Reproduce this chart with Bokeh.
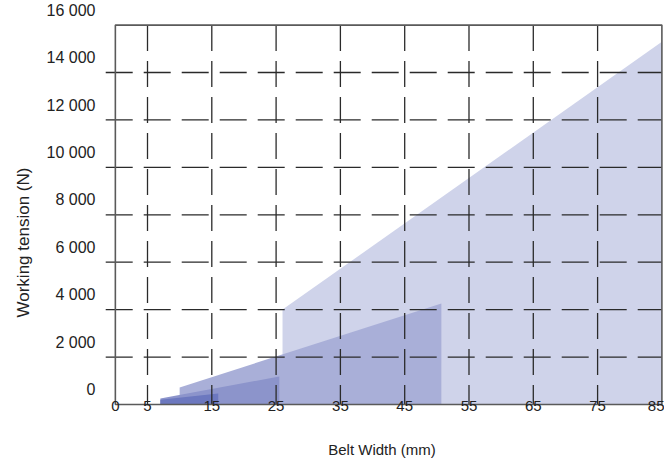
from bokeh.plotting import figure
from bokeh.models import Range1d, LinearAxis, FixedTicker, Title
from bokeh.embed import file_html
from bokeh.resources import INLINE

# ---- data ----
x_ticks = [0, 5, 15, 25, 35, 45, 55, 65, 75, 85]
x_tick_labels = ["0", "5", "15", "25", "35", "45", "55", "65", "75", "85"]
y_ticks = [0, 2000, 4000, 6000, 8000, 10000, 12000, 14000, 16000]
y_tick_labels = ["0", "2 000", "4 000", "6 000", "8 000", "10 000", "12 000", "14 000", "16 000"]

# shaded working ranges (belt width, tension)
area1_x = [26, 26, 85, 85]
area1_y = [0, 4000, 15300, 0]
area2_x = [10, 10, 50.7, 50.7]
area2_y = [0, 720, 4260, 0]
area3_x = [7, 7, 25.5, 25.5]
area3_y = [0, 250, 1180, 0]
area4_x = [7, 7, 16, 16]
area4_y = [0, 200, 460, 0]

FONT = "Liberation Sans"
TXT = "#222222"
Y0, Y1 = -86, 16700
LABEL_SHIFT = 630

p = figure(frame_width=563, frame_height=398,
           x_range=Range1d(-2.31, 85.25), y_range=Range1d(Y0, Y1),
           output_backend="svg", toolbar_location=None,
           y_axis_location=None,
           min_border_left=100, min_border_right=1, min_border_top=8, min_border_bottom=56)
p.outline_line_color = None
p.grid.visible = False
p.background_fill_color = "white"

p.patch(area1_x, area1_y, fill_color="#cfd3ea", line_color=None)
p.patch(area2_x, area2_y, fill_color="#a9afd8", line_color=None)
p.patch(area3_x, area3_y, fill_color="#8c94cb", line_color=None)
p.patch(area4_x, area4_y, fill_color="#6c78bf", line_color=None)

# dashed grid
gx = x_ticks[1:-1]
p.segment(x0=gx, y0=[y_ticks[-1]] * len(gx), x1=gx, y1=[y_ticks[0]] * len(gx),
          line_color="#2a2a2a", line_width=1.3, line_dash="26 10")
gy = y_ticks[1:-1]
p.segment(x0=[-1.5] * len(gy), y0=gy, x1=[x_ticks[-1]] * len(gy), y1=gy,
          line_color="#2a2a2a", line_width=1.3, line_dash="27 11")

# frame box
p.quad(left=[x_ticks[0]], right=[x_ticks[-1]], bottom=[y_ticks[0]], top=[y_ticks[-1]],
       fill_color=None, line_color="#5a5a5a", line_width=1.6)

# x axis
xa = p.xaxis[0]
xa.ticker = FixedTicker(ticks=x_ticks)
xa.major_label_overrides = {t: l for t, l in zip(x_ticks, x_tick_labels)}
xa.bounds = (x_ticks[0], x_ticks[-1])
xa.axis_line_color = None
xa.major_tick_line_color = None
xa.minor_tick_line_color = None
xa.major_tick_out = 0
xa.major_label_standoff = -6
xa.major_label_text_font = FONT
xa.major_label_text_font_size = "15px"
xa.major_label_text_color = TXT
xa.axis_label = "Belt Width (mm)"
xa.axis_label_text_font = FONT
xa.axis_label_text_font_size = "15px"
xa.axis_label_text_font_style = "normal"
xa.axis_label_text_color = TXT
xa.axis_label_standoff = 27

# y tick labels (printed slightly above their lines)
p.extra_y_ranges = {"lab": Range1d(Y0 - LABEL_SHIFT, Y1 - LABEL_SHIFT)}
ya = LinearAxis(y_range_name="lab", ticker=FixedTicker(ticks=y_ticks))
ya.major_label_overrides = {t: l for t, l in zip(y_ticks, y_tick_labels)}
ya.axis_line_color = None
ya.major_tick_line_color = None
ya.minor_tick_line_color = None
ya.major_tick_out = 0
ya.major_tick_in = 0
ya.major_label_standoff = 5
ya.major_label_text_font = FONT
ya.major_label_text_font_size = "16px"
ya.major_label_text_color = TXT
p.add_layout(ya, "left")

# y title
ytitle = Title(text="Working tension (N)", align="left", offset=89, standoff=22,
               text_font=FONT, text_font_size="17px", text_font_style="normal",
               text_color=TXT)
p.add_layout(ytitle, "left")

open("out.html", "w").write(file_html(p, INLINE))
